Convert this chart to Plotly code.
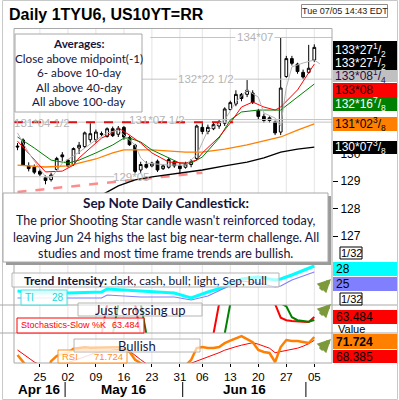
import plotly.graph_objects as go

W, H = 399, 400
def px(x): return x / W
def py(y): return 1 - y / H

# ---------------- data ----------------
days = ["04/19","04/20","04/21","04/22","04/25","04/26","04/27","04/28","04/29",
        "05/02","05/03","05/04","05/05","05/06","05/09","05/10","05/11","05/12","05/13",
        "05/16","05/17","05/18","05/19","05/20","05/23","05/24","05/25","05/26","05/27","05/31",
        "06/01","06/02","06/03","06/06","06/07","06/08","06/09","06/10","06/13","06/14","06/15",
        "06/16","06/17","06/20","06/21","06/22","06/23","06/24","06/27","06/28","06/29","06/30",
        "07/01","07/05"]
idx = list(range(len(days)))

open_ = [130.27,130.49,129.55,129.50,129.35,129.12,129.05,129.42,129.95,129.76,
         129.60,130.20,130.25,130.50,130.50,130.72,130.62,130.90,130.70,130.95,
         130.58,130.30,129.40,129.60,129.55,129.72,129.45,129.50,129.70,129.55,
         129.50,129.60,129.82,130.95,130.80,130.90,131.00,131.10,131.60,131.80,
         132.15,132.15,132.20,131.55,131.35,131.20,131.15,130.78,132.80,133.45,
         133.25,132.95,132.95,133.40]
high = [130.38,130.55,129.68,129.60,129.42,129.20,129.30,129.88,130.05,129.80,
        130.22,130.42,130.80,131.10,130.87,130.80,130.95,130.98,131.00,131.00,
        130.65,130.35,129.70,129.72,129.70,129.78,129.62,129.85,129.75,129.65,
        129.70,129.80,131.05,131.10,131.05,131.12,131.22,131.68,131.92,132.30,
        132.20,132.67,132.30,131.62,131.45,131.35,131.20,134.20,133.55,133.55,
        133.30,133.05,133.95,133.97]
low = [130.12,129.55,129.35,129.25,129.18,128.88,128.98,129.38,129.72,129.50,
       129.55,129.98,130.20,130.40,130.40,130.62,130.58,130.60,130.60,130.50,
       130.28,129.28,129.30,129.45,129.50,129.33,129.40,129.45,129.48,129.22,
       129.45,129.50,129.75,130.70,130.70,130.85,130.90,131.00,131.55,131.72,
       131.90,132.05,131.80,131.25,131.12,131.12,130.67,130.67,132.75,133.20,
       132.90,132.70,132.90,133.33]
close = [130.24,129.58,129.45,129.32,129.25,129.02,129.22,129.82,129.88,129.55,
         130.18,130.30,130.75,130.72,130.78,130.70,130.90,130.65,130.92,130.60,
         130.32,129.35,129.60,129.50,129.65,129.40,129.55,129.78,129.55,129.45,
         129.62,129.72,131.00,130.80,130.95,131.05,131.15,131.62,131.85,132.15,
         132.00,132.30,131.85,131.35,131.20,131.30,130.75,132.38,133.45,133.28,
         132.98,132.78,133.10,133.859375]

# moving-average style lines (day index, price)
mid_idx = [0,2,5,6,8,11,14,16,18,21,22,23,27,30,32,34,37,39,41,43,44,46,47,48,49,51,53,54]
mid_val = [130.75,130.02,129.15,129.11,129.65,130.05,130.49,130.75,130.85,130.31,129.84,129.65,
           129.58,129.58,129.95,130.85,131.22,131.87,132.31,132.05,131.47,131.29,131.0,132.4,
           133.15,133.29,133.40,133.26]
red_idx = [0,5,8,10,11,14,15,17,18,20,22,24,27,30,32,33,36,38,40,42,44,46,47,50,52,53]
red_val = [130.45,129.33,129.36,129.58,129.84,130.38,130.56,130.75,130.93,130.67,130.38,130.02,
           129.69,129.65,129.76,130.02,130.60,131.11,131.69,131.87,131.69,131.58,131.69,132.31,
           132.93,133.25]
grn_idx = [0,3,6,9,11,14,17,19,20,22,24,27,29,31,33,36,38,40,43,47,50,53]
grn_val = [130.60,130.20,129.76,129.65,129.76,130.02,130.31,130.56,130.56,130.42,130.13,129.84,
           129.65,129.65,129.87,130.56,131.22,131.51,131.58,131.58,132.05,132.527]
org_idx = [0,5,9,11,14,17,19,24,30,33,37,41,47,50,53]
org_val = [129.58,129.51,129.55,129.65,129.80,130.02,130.13,130.13,130.05,130.05,130.16,130.31,
           130.60,130.85,131.074]
blk_idx = [12,15,18,21,24,28,33,37,41,44,47,50,53]
blk_val = [128.30,128.49,128.82,129.04,129.15,129.25,129.40,129.55,129.69,129.84,130.05,130.16,130.234]
trend_idx = [0, 33]
trend_val = [128.60, 129.30]

# price levels
level_val = [134.21875, 132.703125, 131.234375, 131.140625, 129.15625]
level_txt = ["134*07", "132*22 1/2", "131*07 1/2", "131*04 1/2", "129*05"]

# Trend intensity
ti_d_idx = [0,3,9,15,16,22,28,31,34,37,40,43,46,47,49,53]
ti_d_val = [15.5,14.5,14.5,15,16.5,15.5,14.5,12,15,17.5,21.5,22.5,21,21.5,23.5,28]
ti_l_idx = [0,15,16,22,28,31,34,37,40,43,46,47,49,53]
ti_l_val = [12,12,13.5,12.5,12.5,11,13,17,20.5,19.5,17.5,18,21,25]

# Stochastics slow
stoch_k = [25,18,12,8,6,5,10,18,22,20, 24,28,26,25,24,28,89,92,93,94,
           92,89,28,15,12,10,11,14,13,12, 14,16,22,26,28,30,90,92,94,95,
           96,96,95,93,91,90,89.5,62,57,55.5, 55.5,54,53.5,63.484]
stoch_d = [30,25,20,15,11,8,7,10,15,18, 20,22,24,25,25,25,26,28,89,92,
           93,93,91,30,20,14,12,11,12,13, 13,13,15,18,22,25,28,30,90,93,
           94,95,95,95,94,93,92,91,85,63, 57,55,54,57.5]
# RSI and its average
rsi = [53.7,45,40,37,35,33,47.5,52.7,55,56, 60,61,61.5,61,61,61.5,61,61,61.5,59,
       57,49,45,42,41,40,41,42,41,40, 43,48.7,60.7,61.7,60.7,60.7,61.7,65.5,68,70,
       72.5,69.5,66.5,58.7,56.7,55.7,46.7,61.7,68.7,67.7, 67.7,66.7,65.7,71.724]
rsi_avg = [58.7,54.7,50.7,46.7,44,42,41,42,44,46, 48,50,52,54,56,57,58,58.5,59,59,
           57.7,53,49,45,43,42,41.5,41,41,41.5, 44,45.5,47.5,50,52,54,56,58.5,60.5,62,
           63.5,65,66,64.5,62.5,60.5,56,57,58,59.5, 60.5,62.5,65,68.385]

tick_days = ["04/25","05/02","05/09","05/16","05/23","05/31","06/06","06/13","06/20","06/27","07/05"]
tick_labels = ["25","02","09","16","23","31","06","13","20","27","05"]
months = ["Apr 16", "May 16", "Jun 16"]
month_first = ["04/19", "05/02", "06/01"]
month_last = ["04/29", "05/31", "06/30"]

right_labels = ["133*27<sup>1</sup>/<sub>2</sub>", "133*27<sup>1</sup>/<sub>2</sub>",
                "133*08<sup>1</sup>/<sub>4</sub>", "133*08", "132*16<sup>7</sup>/<sub>8</sub>",
                "131*02<sup>3</sup>/<sub>8</sub>", "130*07<sup>3</sup>/<sub>8</sub>"]

# ---------------- figure ----------------
FONT = "Liberation Sans"
BOXF = "Lato"
NAVY = "#16163c"
XMIN, XMAX = -0.625, 56.16

fig = go.Figure()
# trend line & levels
fig.add_trace(go.Scatter(x=trend_idx, y=trend_val, mode="lines",
                         line=dict(color="#ff8c8c", width=2.5, dash="dash"), hoverinfo="skip"))
gaps = {0: [(23.7, 38.9), (45.9, XMAX)], 1: [(18.8, 28.5), (38.7, XMAX)],
        2: [(29.8, XMAX)], 3: [(XMIN, XMAX)], 4: [(XMIN, 17.3)]}
for k, segs in gaps.items():
    for a, b in segs:
        fig.add_trace(go.Scatter(x=[a, b], y=[level_val[k]] * 2, mode="lines",
                                 line=dict(color="#c4c4c4", width=1), hoverinfo="skip"))
fig.add_trace(go.Scatter(x=[XMIN, 38.5], y=[level_val[3]] * 2, mode="lines",
                         line=dict(color="#e01010", width=2, dash="dash"), hoverinfo="skip"))
fig.add_trace(go.Scatter(x=blk_idx, y=blk_val, mode="lines", line=dict(color="black", width=1.3)))
fig.add_trace(go.Scatter(x=org_idx, y=org_val, mode="lines", line=dict(color="#ff8000", width=1.3)))
fig.add_trace(go.Scatter(x=grn_idx, y=grn_val, mode="lines", line=dict(color="#008000", width=1)))
fig.add_trace(go.Scatter(x=red_idx, y=red_val, mode="lines", line=dict(color="#ff0000", width=1)))
fig.add_trace(go.Scatter(x=mid_idx, y=mid_val, mode="lines", line=dict(color="#b4b4b4", width=1)))
fig.add_trace(go.Candlestick(x=idx, open=open_, high=high, low=low, close=close,
                             increasing=dict(line=dict(color="black", width=1), fillcolor="white"),
                             decreasing=dict(line=dict(color="black", width=1), fillcolor="black"),
                             whiskerwidth=0, text=days))
# indicators
fig.add_trace(go.Scatter(x=ti_d_idx, y=ti_d_val, mode="lines", yaxis="y2",
                         line=dict(color="#00ffff", width=3)))
fig.add_trace(go.Scatter(x=ti_l_idx, y=ti_l_val, mode="lines", yaxis="y2",
                         line=dict(color="#8080ff", width=1.2)))
fig.add_trace(go.Scatter(x=idx, y=stoch_k, mode="lines", yaxis="y3",
                         line=dict(color="#ff0000", width=2)))
fig.add_trace(go.Scatter(x=idx, y=stoch_d, mode="lines", yaxis="y3",
                         line=dict(color="#008000", width=2)))
fig.add_trace(go.Scatter(x=idx, y=rsi_avg, mode="lines", yaxis="y4",
                         line=dict(color="#ff0000", width=1)))
fig.add_trace(go.Scatter(x=idx, y=rsi, mode="lines", yaxis="y4",
                         line=dict(color="#ff8000", width=2.5)))

tickvals = [days.index(d) for d in tick_days]

shapes, anns = [], []

def rect(x0, y0, x1, y1, line=None, fill=None, lw=1, layer="above"):
    shapes.append(dict(type="rect", xref="paper", yref="paper", x0=px(x0), x1=px(x1),
                       y0=py(y1), y1=py(y0), layer=layer,
                       line=dict(color=line if line else "rgba(0,0,0,0)", width=lw if line else 0),
                       fillcolor=fill if fill else "rgba(0,0,0,0)"))

def hline(x0, x1, y, color="#a8a8a8", lw=1, layer="above"):
    shapes.append(dict(type="line", xref="paper", yref="paper", x0=px(x0), x1=px(x1),
                       y0=py(y), y1=py(y), layer=layer, line=dict(color=color, width=lw)))

def vline(x, y0, y1, color="#a8a8a8", lw=1, layer="above"):
    shapes.append(dict(type="line", xref="paper", yref="paper", x0=px(x), x1=px(x),
                       y0=py(y0), y1=py(y1), layer=layer, line=dict(color=color, width=lw)))

def txt(x, y, s, size=12, color="black", anchor="center", family=FONT, **kw):
    anns.append(dict(xref="paper", yref="paper", x=px(x), y=py(y), text=s, showarrow=False,
                     xanchor=anchor, yanchor="middle", font=dict(size=size, color=color, family=family),
                     borderpad=0, **kw))

# vertical grid
for t in tickvals:
    shapes.append(dict(type="line", xref="x", yref="paper", x0=t, x1=t, y0=py(363), y1=py(29),
                       layer="below", line=dict(color="#e4e4e4", width=1)))

# frames
rect(2.5, 0.5, 397.5, 399.5, line="#c8c8c8")
hline(14, 332, 28.5)
vline(14, 28.5, 363)
vline(332, 28.5, 363)
hline(0, 397, 305)
hline(0, 397, 333)
hline(14, 332, 363)

# price level labels
lab_pos = [42.4, 33.6, 24.9, 4.4, 20.3]
for k in range(len(level_val)):
    anns.append(dict(xref="x", yref="y", x=lab_pos[k], y=level_val[k] - (0.03 if k == 3 else 0),
                     text=level_txt[k], showarrow=False, xanchor="center", yanchor="middle",
                     font=dict(size=11.5, color="#b4b4b4", family=FONT)))

# Averages box
rect(15, 34, 142, 112, line="#a8a8a8", fill="white")
avg_lines = ["<b>Averages:</b>", "Close above midpoint(-1)", "6- above 10-day",
             "All above 40-day", "All above 100-day"]
for n, s in enumerate(avg_lines):
    txt(78.5, 43 + n * 14.5, s, size=11.7, color=NAVY, family=BOXF)

# title + date
txt(8, 14, "<b>Daily 1TYU6, US10YT=RR</b>", size=16, anchor="left")
rect(301.5, 4.5, 387.5, 17.5, line="#8c8c8c", fill="white")
txt(344.5, 11, "Tue 07/05 14:43 EDT", size=9, color="#202020")

# right price labels
rl = [(41, 70, "black", "white"), None, (70, 82, "#c0c0c0", "#2a0a4a"), (83, 97, "#ff0000", "black"),
      (97, 111, "#008000", "white"), (117, 131, "#ff8000", "black"), (141, 154, "black", "white")]
for k, r in enumerate(rl):
    if r:
        rect(333, r[0], 397, r[1], fill=r[2])
ry = [49.5, 62.5, 76, 90, 104, 124, 147]
rc = ["white", "white", "#2a0a4a", "black", "white", "black", "white"]
for k in range(len(right_labels)):
    txt(334, ry[k], right_labels[k], size=12, color=rc[k], anchor="left")

# big comment box
rect(6, 196, 331, 265, fill="#9a9a9a")
rect(3, 193, 328, 262, line="#a8a8a8", fill="white")
txt(165.5, 203, "<b>Sep Note Daily Candlestick:</b>", size=13.5, color=NAVY, family=BOXF)
body = ["The prior Shooting Star candle wasn't reinforced today,",
        "leaving Jun 24 highs the last big near-term challenge. All",
        "studies and most time frame trends are bullish."]
for n, s in enumerate(body):
    txt(165.5, 220.5 + n * 16.5, s, size=12.5, color=NAVY, family=BOXF)

# indicator boxes
rect(12, 273, 279, 287, line="#b4b4b4", fill="rgba(255,255,255,0.65)")
txt(145, 280, "<b>Trend Intensity:</b> dark, cash, bull; light, Sep, bull", size=12, color=NAVY, family=BOXF)
rect(21, 290, 67, 305, line="#40e0e0", fill="rgba(255,255,255,0.85)")
txt(24, 297, "TI", size=10, color="#20d8d8", anchor="left")
txt(65, 297, "28", size=10, color="#20d8d8", anchor="right")
rect(78, 303, 202, 316, line="#b4b4b4", fill="rgba(255,255,255,0.6)")
txt(140, 309.5, "Just crossing up", size=13, color=NAVY, family=BOXF)
rect(17, 318, 144, 333, line="#ff0000", fill="rgba(255,255,255,0.85)")
txt(20, 325, "Stochastics-Slow %K", size=9, color="#ff0000", anchor="left")
txt(141, 325, "63.484", size=9, color="#ff0000", anchor="right")
rect(58, 350, 127, 363, line="#ff9020", fill="rgba(255,255,255,0.85)")
txt(61, 356, "RSI", size=9.5, color="#ff9020", anchor="left")
txt(124, 356, "71.724", size=9.5, color="#ff9020", anchor="right")
rect(74, 339, 200, 352, line="#b4b4b4", fill="rgba(255,255,255,0.6)")
txt(137, 345.5, "Bullish", size=13, color=NAVY, family=BOXF)

# right indicator labels
rect(340, 247, 362, 259, line="black", fill="white")
txt(351, 253, "1/32", size=11)
rect(333, 262, 397, 276, fill="#00ffff")
txt(335, 269, "28", size=12, anchor="left")
rect(333, 277, 397, 291, fill="#8080ff")
txt(335, 284, "25", size=12, anchor="left")
rect(340, 293, 362, 305, line="black", fill="white")
txt(351, 299, "1/32", size=11)
rect(333, 310, 397, 324, fill="#ff0000")
txt(335, 317, "63.484", size=12, anchor="left")
txt(351, 328.5, "Value", size=11)
rect(333, 334, 397, 349, fill="#ff8000")
txt(335, 341.5, "<b>71.724</b>", size=12, anchor="left")
rect(333, 350, 397, 363, fill="#ff0000")
txt(335, 356.5, "68.385", size=12, anchor="left")

# arrows
for yy in [279, 304, 339]:
    anns.append(dict(xref="paper", yref="paper", x=px(331), y=py(yy), ax=-12, ay=12, text="",
                     showarrow=True, arrowhead=2, arrowsize=0.6, arrowwidth=4.5, arrowcolor="#7c9a3c"))

# months
for m, a, b in zip(months, month_first, month_last):
    c = (days.index(a) + days.index(b)) / 2
    anns.append(dict(xref="x", yref="paper", x=c, y=py(389), text="<b>" + m + "</b>", showarrow=False,
                     xanchor="center", yanchor="middle", font=dict(size=13.5, color="black", family=FONT)))
for b in month_last:
    s = days.index(b) + 0.5
    shapes.append(dict(type="line", xref="x", yref="paper", x0=s, x1=s, y0=py(382), y1=py(397),
                       line=dict(color="black", width=1)))

fig.update_layout(
    width=W, height=H, margin=dict(l=0, r=0, t=0, b=0), showlegend=False,
    paper_bgcolor="white", plot_bgcolor="white",
    font=dict(family=FONT, size=11, color="black"),
    xaxis=dict(domain=[px(14), px(332)], range=[XMIN, XMAX], anchor="y4",
               tickvals=tickvals, ticktext=tick_labels, ticks="outside", ticklen=3,
               tickcolor="black", showgrid=False, zeroline=False, showline=False,
               rangeslider=dict(visible=False), tickfont=dict(size=11.5)),
    yaxis=dict(domain=[py(262), py(29)], range=[126.055, 134.527], side="right", anchor="x",
               tickvals=[127, 128, 129, 130], ticks="outside", ticklen=5, tickcolor="black",
               showgrid=False, zeroline=False, showline=False, tickfont=dict(size=12)),
    yaxis2=dict(domain=[py(305), py(262)], range=[8.5, 30], anchor="x", showticklabels=False,
                showgrid=False, zeroline=False),
    yaxis3=dict(domain=[py(333), py(305)], range=[31.5, 87.5], anchor="x", showticklabels=False,
                showgrid=False, zeroline=False),
    yaxis4=dict(domain=[py(363), py(333)], range=[45.7, 75.7], anchor="x", showticklabels=False,
                showgrid=False, zeroline=False),
    shapes=shapes, annotations=anns,
)
fig.write_html("out.html", config={"displayModeBar": False},
               post_script="document.body.style.margin='0px';document.body.style.overflow='hidden';")
